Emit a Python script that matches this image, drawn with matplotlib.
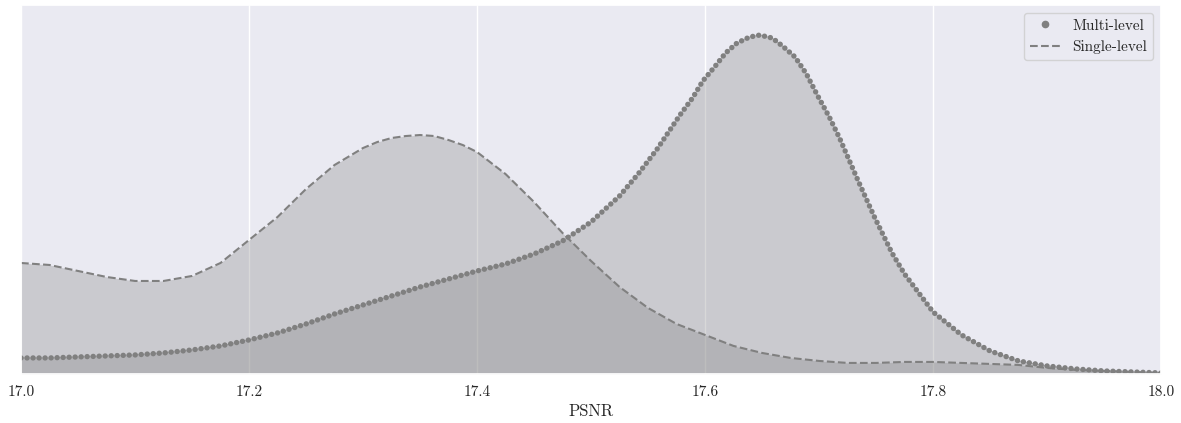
import numpy as np
import matplotlib
matplotlib.use("Agg")
import matplotlib.pyplot as plt
from matplotlib.lines import Line2D
import seaborn as sns

# density curves (x in PSNR, y in arbitrary density units)
psnr_single = [17.000, 17.025, 17.050, 17.075, 17.100, 17.125, 17.150, 17.175,
               17.200, 17.225, 17.250, 17.275, 17.300, 17.3125, 17.325, 17.3375,
               17.350, 17.3625, 17.375, 17.3875, 17.400, 17.425, 17.450, 17.475,
               17.500, 17.525, 17.550, 17.575, 17.600, 17.625, 17.650, 17.675,
               17.700, 17.725, 17.750, 17.775, 17.800, 17.825, 17.850, 17.875,
               17.900, 17.925, 17.950, 17.975, 18.000]
single_level = [1.11, 1.09, 1.03, 0.97, 0.93, 0.93, 0.98, 1.11,
                1.34, 1.57, 1.85, 2.09, 2.26, 2.32, 2.36, 2.38,
                2.39, 2.38, 2.34, 2.29, 2.22, 2.00, 1.72, 1.41,
                1.13, 0.87, 0.66, 0.50, 0.39, 0.28, 0.21, 0.16,
                0.13, 0.11, 0.11, 0.12, 0.12, 0.11, 0.10, 0.09,
                0.06, 0.04, 0.03, 0.02, 0.01]

psnr_multi = [17.000, 17.025, 17.050, 17.075, 17.100, 17.125, 17.150, 17.175,
              17.200, 17.225, 17.250, 17.275, 17.300, 17.325, 17.350, 17.375,
              17.400, 17.425, 17.450, 17.475, 17.500, 17.525, 17.542, 17.558,
              17.568, 17.578, 17.589, 17.598, 17.609, 17.618, 17.628, 17.639,
              17.648, 17.659, 17.668, 17.679, 17.689, 17.698, 17.709, 17.718,
              17.734, 17.749, 17.764, 17.775, 17.800, 17.825, 17.850, 17.875,
              17.900, 17.925, 17.950, 17.975, 18.000]
multi_level = [0.16, 0.16, 0.17, 0.18, 0.19, 0.21, 0.24, 0.28,
               0.34, 0.41, 0.50, 0.60, 0.69, 0.78, 0.87, 0.95,
               1.03, 1.10, 1.20, 1.33, 1.52, 1.78, 2.01, 2.25,
               2.42, 2.59, 2.76, 2.93, 3.08, 3.21, 3.31, 3.37,
               3.39, 3.36, 3.28, 3.17, 3.00, 2.80, 2.57, 2.36,
               1.94, 1.56, 1.21, 1.00, 0.62, 0.39, 0.23, 0.13,
               0.08, 0.05, 0.03, 0.02, 0.01]

labels = ["Multi-level", "Single-level"]

sns.set_theme(style="darkgrid")
plt.rcParams["font.family"] = ["serif"]
plt.rcParams["font.serif"] = ["cmr10", "DejaVu Serif"]
plt.rcParams["mathtext.fontset"] = "cm"
plt.rcParams["axes.formatter.use_mathtext"] = True

fig = plt.figure(figsize=(11.81, 4.23), dpi=100)
ax = fig.add_axes([0.0178, 0.116, 0.9653, 0.872])

col = "gray"
ax.fill_between(psnr_single, single_level, color=col, alpha=0.3, linewidth=0)
ax.fill_between(psnr_multi, multi_level, color=col, alpha=0.3, linewidth=0)

ax.plot(psnr_single, single_level, color=col, lw=1.5, ls="--")
ax.plot(psnr_multi, multi_level, color=col, lw=0.8, alpha=0.5)
ax.plot(psnr_multi, multi_level, color=col, lw=3.9, ls=(0, (0.01, 1.1)),
        dash_capstyle="round")

ax.set_xlim(17.0, 18.0)
ax.set_ylim(0, 3.69)
ticks = np.arange(17.0, 18.01, 0.2)
ax.set_xticks(ticks)
ax.set_xticklabels(["%.1f" % t for t in ticks])
ax.set_yticks([])
ax.grid(axis="y", visible=False)
ax.tick_params(axis="x", labelsize=11, pad=8.5, length=0)
ax.set_xlabel("PSNR", fontsize=12, labelpad=3)

handles = [Line2D([], [], color=col, marker="o", ls="none", markersize=4.5),
           Line2D([], [], color=col, ls="--", lw=1.5)]
ax.legend(handles, labels, loc="upper right", fontsize=11)

fig.savefig("out.png", dpi=100)
